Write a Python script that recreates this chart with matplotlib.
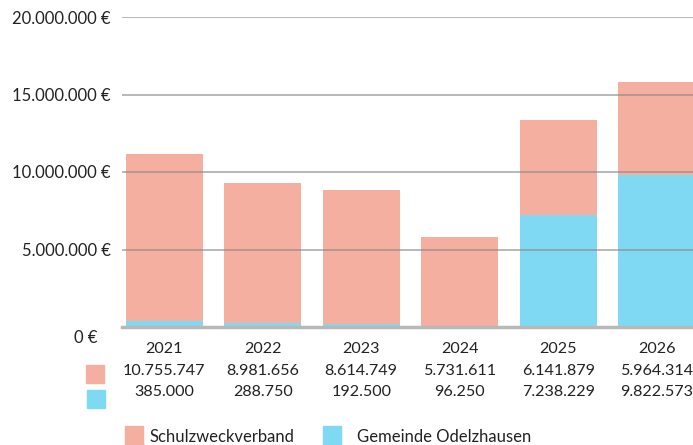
import matplotlib.pyplot as plt
from matplotlib.patches import Rectangle

years = ['2021', '2022', '2023', '2024', '2025', '2026']
schulzweck = [10755747, 8981656, 8614749, 5731611, 6141879, 5964314]
gemeinde = [385000, 288750, 192500, 96250, 7238229, 9822573]
yticks = [0, 5000000, 10000000, 15000000, 20000000]

c_salmon = '#F5AFA0'
c_blue = '#80D9F3'


def fmt(v):
    return f'{v:,}'.replace(',', '.')


plt.rcParams['font.family'] = ['Lato', 'DejaVu Sans']
plt.rcParams['text.color'] = '#222222'
plt.rcParams['ytick.color'] = '#222222'
fs = 11.6

fig = plt.figure(figsize=(6.93, 4.45), dpi=100)
ax = fig.add_axes([122 / 693, 1 - 327 / 445, 1 - 122 / 693, 310 / 445])

x = range(len(years))
ax.bar(x, gemeinde, width=0.78, color=c_blue, zorder=1)
ax.bar(x, schulzweck, width=0.78, bottom=gemeinde, color=c_salmon, zorder=1)

ax.set_xlim(-0.43, 5.37)
ax.set_ylim(0, 20000000)
ax.set_yticks(yticks)
ax.set_yticklabels([fmt(v) + ' €' if v else '' for v in yticks])
ax.tick_params(axis='y', length=0, pad=8, labelsize=12)
ax.set_xticks([])
for s in ax.spines.values():
    s.set_visible(False)
for v in yticks[1:]:
    ax.axhline(v, color='#888888', lw=1.4, alpha=0.6, zorder=3)
ax.axhline(0, color='#b8b8b8', lw=2.5, zorder=3, clip_on=False)
ax.text(-0.043, -0.035, '0 €', transform=ax.transAxes, ha='right', va='center', fontsize=12)

# table below the bars
tr = ax.get_xaxis_transform()
for i in x:
    ax.text(i, -0.071, years[i], transform=tr, ha='center', va='center', fontsize=fs)
    ax.text(i, -0.142, fmt(schulzweck[i]), transform=tr, ha='center', va='center', fontsize=fs)
    ax.text(i, -0.210, fmt(gemeinde[i]), transform=tr, ha='center', va='center', fontsize=fs)

W, H = 693, 445


def box(x0, y0, w, h, color):
    fig.patches.append(Rectangle((x0 / W, 1 - (y0 + h) / H), w / W, h / H,
                                 transform=fig.transFigure, color=color, figure=fig))


box(86, 365, 18, 18, c_salmon)
box(87, 390, 18, 18, c_blue)

# legend
box(125, 426, 18, 19, c_salmon)
fig.text(150 / W, 1 - 437 / H, 'Schulzweckverband', ha='left', va='center', fontsize=12)
box(323, 426, 18, 19, c_blue)
fig.text(357 / W, 1 - 437 / H, 'Gemeinde Odelzhausen', ha='left', va='center', fontsize=12)

fig.savefig('out.png', dpi=100)
